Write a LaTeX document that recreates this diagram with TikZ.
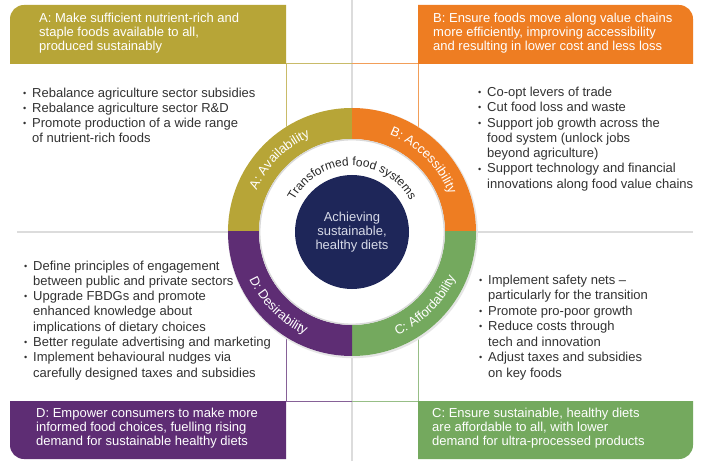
\documentclass[tikz,border=0pt]{standalone}
\usepackage{fontspec}
\setmainfont{Liberation Sans}
\usepackage{graphicx}
\usetikzlibrary{decorations.text,calc}
\definecolor{cA}{RGB}{183,165,55}
\definecolor{cB}{RGB}{238,125,34}
\definecolor{cC}{RGB}{116,169,94}
\definecolor{cD}{RGB}{94,45,116}
\definecolor{navy}{RGB}{30,38,89}
\definecolor{bodytxt}{RGB}{50,50,50}
\definecolor{coretxt}{RGB}{215,218,232}
\newcommand{\bul}{\makebox[9pt][l]{\raisebox{0.8pt}{\scalebox{0.7}{•}}}}
\newcommand{\ind}{\hspace*{9pt}}
\begin{document}
\begin{tikzpicture}[x=1pt,y=1pt,
  hdr/.style={inner sep=0pt, anchor=base west, text=white, font=\fontsize{13}{14}\selectfont},
  body/.style={inner sep=0pt, anchor=base west, text=bodytxt, font=\fontsize{13}{15.3}\selectfont},
  link/.style={line width=1pt},
  fold/.style={black!30, line width=2.2pt, opacity=0.45},
  ringlabel/.style={decorate, decoration={text along path, text align=center, text color=white,
     text={|\fontsize{13}{13}\selectfont|#1}}}
]
\useasboundingbox (0,0) rectangle (701,461);
\fill[white] (0,0) rectangle (701,461);
\coordinate (C) at (352,229);

% page fold shadows
\draw[fold] (352,0) -- (352,461);
\draw[fold] (17,229) -- (693,229);

% header boxes
\fill[cA] (10,397) -- (10,442) arc[start angle=180,end angle=90,radius=14] -- (286,456) -- (286,397) -- cycle;
\fill[cB] (418,397) -- (418,456) -- (679,456) arc[start angle=90,end angle=0,radius=14] -- (693,397) -- cycle;
\fill[cD] (10,60) -- (286,60) -- (286,2) -- (24,2) arc[start angle=270,end angle=180,radius=14] -- cycle;
\fill[cC] (418,60) -- (693,60) -- (693,16) arc[start angle=0,end angle=-90,radius=14] -- (418,2) -- cycle;

\coordinate (aC) at (286,397);
\coordinate (bC) at (418,397);
\coordinate (dC) at (286,60);
\coordinate (cC) at (418,60);
\coordinate (topM) at (352,397);
\coordinate (botM) at (352,60);

% connecting lines
\draw[link, cA!75] (aC) -- (topM);
\draw[link, cB!75] (topM) -- (bC);
\draw[link, cA!75] (aC) -- (aC |- C);
\draw[link, cB!75] (bC) -- (bC |- C);
\draw[link, cD!75] (dC) -- (botM);
\draw[link, cC!75] (botM) -- (cC);
\draw[link, cD!75] (dC) -- (dC |- C);
\draw[link, cC!75] (cC) -- (cC |- C);

% ring
\fill[black!10] ([xshift=0.8pt,yshift=-1.2pt]C) circle (125);
\fill[white] (C) circle (124);
\begin{scope}\clip (C) rectangle ++(-130,130);
  \fill[cA, even odd rule] (C) circle (124) (C) circle (93); \end{scope}
\begin{scope}\clip (C) rectangle ++(130,130);
  \fill[cB, even odd rule] (C) circle (124) (C) circle (93); \end{scope}
\begin{scope}\clip (C) rectangle ++(130,-130);
  \fill[cC, even odd rule] (C) circle (124) (C) circle (93); \end{scope}
\begin{scope}\clip (C) rectangle ++(-130,-130);
  \fill[cD, even odd rule] (C) circle (124) (C) circle (93); \end{scope}
\draw[black!15, line width=1.4pt] (C) circle (92.3);

\node[circle, fill=navy, minimum size=114pt, inner sep=0pt, text=coretxt, align=center,
  font=\fontsize{13}{14.2}\selectfont] (core) at (C) {Achieving\\sustainable,\\healthy diets};

% curved labels
\path[ringlabel={A: Availability}] ($(C)+(180:104)$) arc[start angle=180, end angle=90, radius=104];
\path[ringlabel={B: Accessibility}] ($(C)+(90:104)$) arc[start angle=90, end angle=0, radius=104];
\path[ringlabel={C: Affordability}] ($(C)+(270:113)$) arc[start angle=270, end angle=360, radius=113];
\path[ringlabel={D: Desirability}] ($(C)+(180:113)$) arc[start angle=180, end angle=270, radius=113];
\path[decorate, decoration={text along path, text align=center, text color=black!85,
     text={|\fontsize{12}{12}\selectfont|Transformed food systems}}]
  ($(C)+(180:66)$) arc[start angle=180, end angle=0, radius=66];

% header texts
\node[hdr] (hA) at (39,438) {\parbox[t]{250pt}{\raggedright A: Make sufficient nutrient-rich and\\staple foods available to all,\\produced sustainably}};
\node[hdr] (hB) at (433,438.5) {\parbox[t]{260pt}{\raggedright B: Ensure foods move along value chains\\more efficiently, improving accessibility\\and resulting in lower cost and less loss}};
\node[hdr] (hD) at (36,43.7) {\parbox[t]{250pt}{\raggedright D: Empower consumers to make more\\informed food choices, fuelling rising\\demand for sustainable healthy diets}};
\node[hdr] (hC) at (432,44) {\parbox[t]{260pt}{\raggedright C: Ensure sustainable, healthy diets\\are affordable to all, with lower\\demand for ultra-processed products}};

% body texts
\node[body, font=\fontsize{13}{15}\selectfont] (bA) at (23,363.7) {\parbox[t]{270pt}{\raggedright
\bul Rebalance agriculture sector subsidies\\
\bul Rebalance agriculture sector R\&D\\
\bul Promote production of a wide range\\
\ind of nutrient-rich foods}};
\node[body] (bB) at (478,364.5) {\parbox[t]{230pt}{\raggedright
\bul Co-opt levers of trade\\
\bul Cut food loss and waste\\
\bul Support job growth across the\\
\ind food system (unlock jobs\\
\ind beyond agriculture)\\
\bul Support technology and financial\\
\ind innovations along food value chains}};
\node[body] (bD) at (24,191) {\parbox[t]{280pt}{\raggedright
\bul Define principles of engagement\\
\ind between public and private sectors\\
\bul Upgrade FBDGs and promote\\
\ind enhanced knowledge about\\
\ind implications of dietary choices\\
\bul Better regulate advertising and marketing\\
\bul Implement behavioural nudges via\\
\ind carefully designed taxes and subsidies}};
\node[body, font=\fontsize{13}{15.5}\selectfont] (bC) at (479,177) {\parbox[t]{220pt}{\raggedright
\bul Implement safety nets –\\
\ind particularly for the transition\\
\bul Promote pro-poor growth\\
\bul Reduce costs through\\
\ind tech and innovation\\
\bul Adjust taxes and subsidies\\
\ind on key foods}};
\end{tikzpicture}
\end{document}
